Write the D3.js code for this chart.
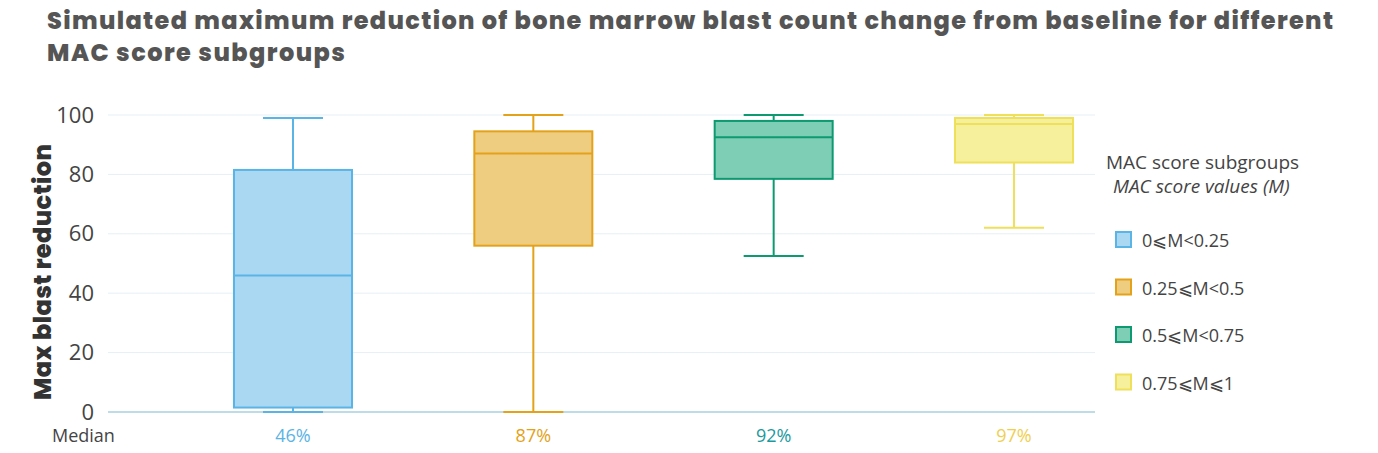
<!DOCTYPE html>
<html><head><meta charset="utf-8">
<script src="https://cdn.jsdelivr.net/npm/d3@7"></script>
<style>body{margin:0;background:#fff;font-family:Poppins,"Open Sans",sans-serif}</style>
</head><body><svg id="c" width="1378" height="453"></svg>
<script>
const groups = ["0⩽M<0.25","0.25⩽M<0.5","0.5⩽M<0.75","0.75⩽M⩽1"];
const whiskerLow = [0,0,52.5,62];
const q1 = [1.5,56,78.5,84];
const median = [46,87,92.5,97];
const q3 = [81.5,94.5,98,99];
const whiskerHigh = [99,100,100,100];
const medianLabels = ["46%","87%","92%","97%"];
const yTicks = [0,20,40,60,80,100];
const strokeC = ["#5ab4e5","#e3a21a","#0e9a70","#eee05a"];
const fillC = ["#aad8f3","#efcd80","#7ecdb5","#f6f09c"];
const labelC = ["#5ab4e5","#e3a21a","#1a9aa0","#f0cf50"];

const svg = d3.select("#c");
svg.append("text").attr("x",47).attr("y",29).attr("font-size",24).attr("font-weight",800).attr("fill","#555")
  .attr("textLength",1286).attr("lengthAdjust","spacing")
  .text("Simulated maximum reduction of bone marrow blast count change from baseline for different");
svg.append("text").attr("x",47).attr("y",61).attr("font-size",24).attr("font-weight",800).attr("fill","#555")
  .attr("textLength",298).attr("lengthAdjust","spacing")
  .text("MAC score subgroups");

const xc = d3.scalePoint().domain(groups).range([293,1014]);
const y = d3.scaleLinear().domain([0,100]).range([412,115]);
const bw = 118;

const g = svg.append("g");
yTicks.forEach(t=>{
  g.append("line").attr("x1",108).attr("x2",1095).attr("y1",y(t)).attr("y2",y(t))
   .attr("stroke",t===0?"#a9cfe0":"#e6eff4").attr("stroke-width",t===0?1.5:1);
});
const ax = g.append("g").attr("transform","translate(108,0)").call(d3.axisLeft(y).tickValues(yTicks).tickSize(0).tickPadding(14));
ax.select(".domain").remove();
ax.selectAll("text").attr("font-size",22).attr("fill","#444").attr("font-family","'Open Sans',sans-serif");
svg.append("text").attr("transform","translate(51,272) rotate(-90)").attr("text-anchor","middle")
  .attr("font-size",24).attr("font-weight",800).attr("fill","#333")
  .attr("textLength",256).attr("lengthAdjust","spacing").text("Max blast reduction");

groups.forEach((gname,i)=>{
  const cx = xc(gname);
  const s = strokeC[i];
  g.append("line").attr("x1",cx).attr("x2",cx).attr("y1",y(whiskerHigh[i])).attr("y2",y(q3[i])).attr("stroke",s).attr("stroke-width",2);
  g.append("line").attr("x1",cx).attr("x2",cx).attr("y1",y(q1[i])).attr("y2",y(whiskerLow[i])).attr("stroke",s).attr("stroke-width",2);
  [whiskerHigh[i],whiskerLow[i]].forEach(v=>g.append("line").attr("x1",cx-30).attr("x2",cx+30).attr("y1",y(v)).attr("y2",y(v)).attr("stroke",s).attr("stroke-width",2));
  g.append("rect").attr("x",cx-bw/2).attr("width",bw).attr("y",y(q3[i])).attr("height",y(q1[i])-y(q3[i]))
   .attr("fill",fillC[i]).attr("stroke",s).attr("stroke-width",2);
  g.append("line").attr("x1",cx-bw/2).attr("x2",cx+bw/2).attr("y1",y(median[i])).attr("y2",y(median[i])).attr("stroke",s).attr("stroke-width",2);
  svg.append("text").attr("x",cx).attr("y",442).attr("text-anchor","middle").attr("font-size",18)
   .attr("fill",labelC[i]).attr("font-family","'Open Sans',sans-serif").text(medianLabels[i]);
});
svg.append("text").attr("x",52).attr("y",442).attr("font-size",18).attr("fill","#444").attr("font-family","'Open Sans',sans-serif").text("Median");

svg.append("text").attr("x",1106).attr("y",169).attr("font-size",19).attr("fill","#444").attr("font-family","'Open Sans',sans-serif").text("MAC score subgroups");
svg.append("text").attr("x",1113).attr("y",193).attr("font-size",19).attr("font-style","italic").attr("fill","#444").attr("font-family","'Open Sans',sans-serif").text("MAC score values (M)");
groups.forEach((gname,i)=>{
  const ly = 240 + i*47.5;
  svg.append("rect").attr("x",1116).attr("y",ly-8).attr("width",15).attr("height",15).attr("fill",fillC[i]).attr("stroke",strokeC[i]).attr("stroke-width",2);
  svg.append("text").attr("x",1142).attr("y",ly+7).attr("font-size",18).attr("fill","#444").attr("font-family","'Open Sans',sans-serif").text(gname);
});
</script></body></html>
